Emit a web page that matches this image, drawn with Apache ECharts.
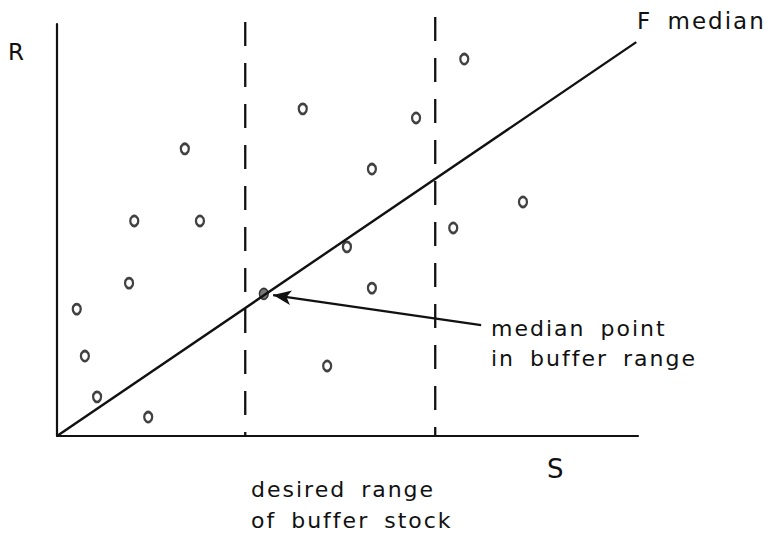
<!DOCTYPE html>
<html>
<head>
<meta charset="utf-8">
<script src="https://cdn.jsdelivr.net/npm/echarts@6/dist/echarts.min.js"></script>
<style>
  html, body { margin: 0; padding: 0; background: #fff; }
  #main { width: 772px; height: 537px; }
  #main svg text { letter-spacing: 2px; word-spacing: 6px; }
</style>
</head>
<body>
<div id="main"></div>
<script>
// Open-circle observations: [S, R]
const observations = [
  [42.3, 79.4], [22.0, 69.7], [13.3, 52.2], [24.6, 52.2], [61.8, 77.2],
  [70.1, 91.5], [54.2, 64.8], [80.2, 56.8], [68.2, 50.5], [49.9, 45.9],
  [12.4, 37.1], [3.4, 30.8], [4.8, 19.4], [6.9, 9.5], [15.7, 4.6],
  [54.2, 35.9], [46.5, 17.0]
];
// Median point inside buffer range
const medianPoint = [[35.6, 34.5]];
// F median replacement line
const fMedianLine = [[0, 0], [99.7, 95.6]];
// Buffer range limits (S values) and the top of the dashed lines (R)
const bufferLow = 32.4;
const bufferHigh = 65.1;
const bufferLowTop = 100.5;
const bufferHighTop = 101.7;
// Arrow from annotation to median point
const arrowFrom = [73.0, 26.9];
const arrowTo = [37.2, 34.2];

const FONT = 'DejaVu Sans';
const chart = echarts.init(document.getElementById('main'), null, { renderer: 'svg' });

function txt(text, x, y, size) {
  return {
    type: 'text', left: x, top: y - size / 2,
    style: { text: text, fill: '#111', fontSize: size, fontFamily: FONT, verticalAlign: 'top' },
    silent: true
  };
}

const option = {
  animation: false,
  backgroundColor: '#fff',
  grid: { left: 57, right: 134, top: 24, bottom: 101, containLabel: false },
  xAxis: {
    type: 'value', min: 0, max: 100,
    axisLine: { show: true, onZero: false, lineStyle: { color: '#111', width: 2.2 } },
    axisTick: { show: false }, axisLabel: { show: false }, splitLine: { show: false }
  },
  yAxis: {
    type: 'value', min: 0, max: 100,
    axisLine: { show: true, onZero: false, lineStyle: { color: '#111', width: 2.2 } },
    axisTick: { show: false }, axisLabel: { show: false }, splitLine: { show: false }
  },
  series: [
    {
      type: 'line', data: fMedianLine, symbol: 'none', clip: false,
      lineStyle: { color: '#111', width: 2.4 }
    },
    {
      type: 'line', data: [[bufferLow, bufferLowTop], [bufferLow, 0]], symbol: 'none', clip: false,
      lineStyle: { color: '#111', width: 2.3, type: [24, 17] }
    },
    {
      type: 'line', data: [[bufferHigh, bufferHighTop], [bufferHigh, 0]], symbol: 'none', clip: false,
      lineStyle: { color: '#111', width: 2.3, type: [24, 17] }
    },
    {
      type: 'scatter', data: observations, symbol: 'circle', symbolSize: [8, 10],
      itemStyle: { color: '#fff', borderColor: '#111', borderWidth: 2.5 }
    },
    {
      type: 'scatter', data: medianPoint, symbol: 'circle', symbolSize: [9, 11],
      itemStyle: { color: '#555', borderColor: '#111', borderWidth: 1.5 },
      markLine: {
        silent: true, symbol: ['none', 'arrow'], symbolSize: [11, 18],
        label: { show: false },
        lineStyle: { color: '#111', width: 2.3, type: 'solid' },
        itemStyle: { color: '#333' },
        data: [[{ coord: arrowFrom }, { coord: arrowTo }]]
      }
    }
  ],
  graphic: [
    txt('R', 8, 52, 23),
    txt('S', 547, 469, 26),
    txt('F median', 637, 21, 23),
    txt('median point', 491, 328, 22),
    txt('in buffer range', 491, 358, 22),
    txt('desired range', 251, 489, 22),
    txt('of buffer stock', 251, 520, 22)
  ]
};
chart.setOption(option);
</script>
</body>
</html>
